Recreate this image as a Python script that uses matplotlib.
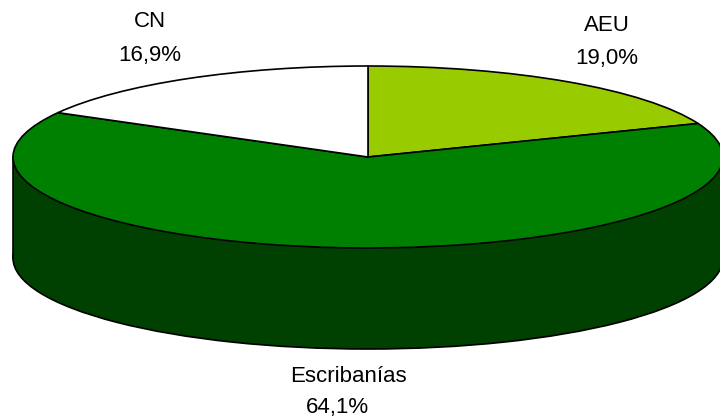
#!/usr/bin/env python3
import matplotlib
matplotlib.use("Agg")
import matplotlib.pyplot as plt
from matplotlib.patches import Rectangle

labels = ["AEU", "Escribanías", "CN"]
shares = [19.0, 64.1, 16.9]
share_text = ["19,0%", "64,1%", "16,9%"]
top_colors = ["#99cc00", "#008000", "#ffffff"]
side_color = "#004000"
depth = 1.11

plt.rcParams["font.family"] = ["Liberation Sans", "DejaVu Sans"]

fig = plt.figure(figsize=(7.2, 4.19), dpi=100)
ax = fig.add_axes([0, 0, 1, 1])

# side of the disc: lower pie plus a band up to the top face
ax.pie([100], colors=[side_color], center=(0, -depth), radius=1,
       wedgeprops={"edgecolor": "black", "linewidth": 1.2})
ax.add_patch(Rectangle((-1, -depth), 2, depth, facecolor=side_color, edgecolor="none", zorder=2))
ax.plot([-1, -1], [-depth, 0], color="black", lw=1.2, zorder=3)
ax.plot([1, 1], [-depth, 0], color="black", lw=1.2, zorder=3)

wedges, _ = ax.pie(shares, colors=top_colors, startangle=90, counterclock=False, radius=1,
                   wedgeprops={"edgecolor": "black", "linewidth": 1.2, "zorder": 4})

# squash the round pie into the tilted ellipse
ax.set_aspect("auto")
ax.set_xlim(-368 / 355, 352 / 355)
ax.set_ylim(-(419 - 157) / 91, 157 / 91)
ax.axis("off")

name_pos = [(0.673, 1.45), (-0.056, -2.407), (-0.614, 1.484)]
pct_pos = [(0.673, 1.077), (-0.087, -2.758), (-0.614, 1.11)]
for name, pct, p1, p2 in zip(labels, share_text, name_pos, pct_pos):
    ax.text(p1[0], p1[1], name, ha="center", va="center", fontsize=16, color="black", zorder=5)
    ax.text(p2[0], p2[1], pct, ha="center", va="center", fontsize=16, color="black", zorder=5)

fig.savefig("out.png", dpi=100)
plt.close(fig)
